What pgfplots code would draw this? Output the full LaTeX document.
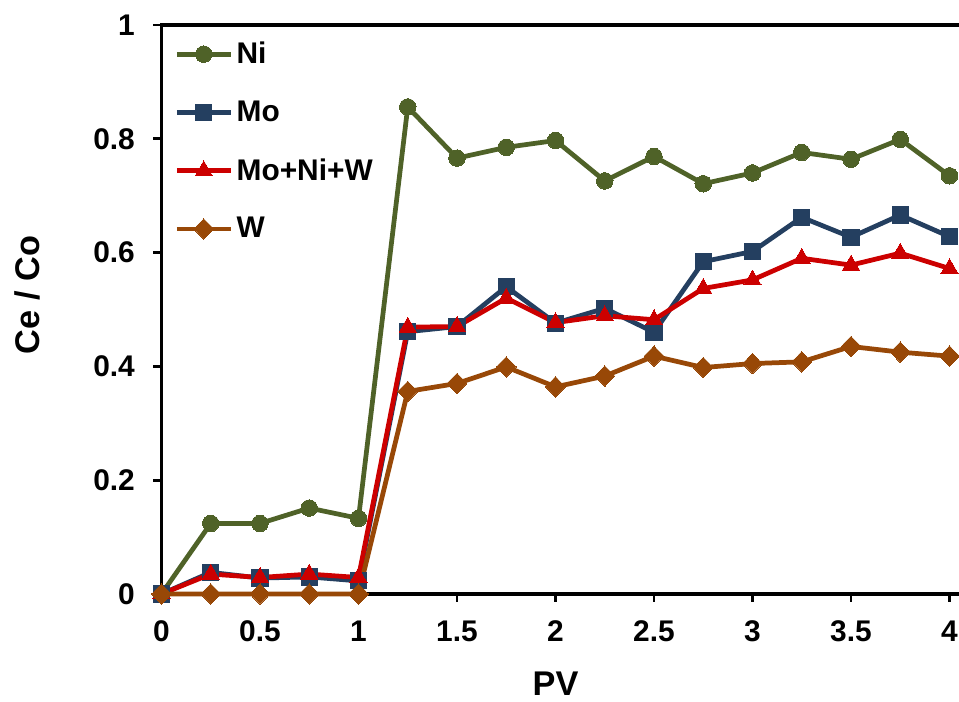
\documentclass[border=0pt]{standalone}
\usepackage{pgfplots}
\pgfplotsset{compat=1.18}
\usepackage{fontspec}
\setmainfont{Liberation Sans}
\definecolor{niC}{HTML}{4F6228}
\definecolor{moC}{HTML}{243F60}
\definecolor{mixC}{HTML}{CC0000}
\definecolor{wC}{HTML}{984807}

\pgfplotstableread{
pv   ni     mo     mix    w
0    0      0      0      0
0.25 0.124  0.038  0.035  0
0.5  0.124  0.028  0.029  0
0.75 0.151  0.030  0.035  0
1    0.133  0.023  0.029  0
1.25 0.856  0.461  0.469  0.356
1.5  0.766  0.470  0.470  0.370
1.75 0.785  0.540  0.520  0.399
2    0.797  0.476  0.477  0.364
2.25 0.726  0.502  0.489  0.383
2.5  0.769  0.460  0.482  0.418
2.75 0.721  0.584  0.537  0.398
3    0.740  0.602  0.552  0.405
3.25 0.776  0.662  0.590  0.408
3.5  0.764  0.627  0.578  0.435
3.75 0.799  0.666  0.599  0.425
4    0.735  0.628  0.572  0.418
}\breakthrough

\begin{document}
\begin{tikzpicture}
\begin{axis}[
  scale only axis, at={(0,0)}, anchor=south west,
  width=16.154cm, height=11.38cm,
  xmin=0, xmax=4.1, ymin=0, ymax=1,
  xtick={0,0.5,...,4}, ytick={0,0.2,...,1},
  xtick pos=bottom, ytick pos=left,
  tick align=outside, major tick length=0.16cm,
  tick style={line width=1.6pt, black},
  axis line style={line width=2pt, black},
  font=\fontsize{17}{20}\selectfont\bfseries,
  /pgf/number format/assume math mode=true,
  yticklabel style={xshift=-0.25cm},
  xticklabel style={yshift=-0.25cm},
  legend style={draw=none, fill=none, at={(0.009,0.983)}, anchor=north west,
    row sep=0.55cm, font=\fontsize{17}{20}\selectfont\bfseries},
  legend cell align=left,
  legend image code/.code={\draw[mark repeat=2, mark phase=2] plot coordinates {(0cm,0cm) (0.54cm,0cm) (1.08cm,0cm)};},
  every axis plot/.append style={line width=2.7pt},
  clip=false,
]
\addplot[color=niC, mark=*, mark size=4.7pt, mark options={solid, line width=0pt}] table[x=pv, y=ni] {\breakthrough};
\addlegendentry{Ni}
\addplot[color=moC, mark=square*, mark size=4.6pt, mark options={solid, line width=0pt}] table[x=pv, y=mo] {\breakthrough};
\addlegendentry{Mo}
\addplot[color=mixC, mark=triangle*, mark size=5.6pt, mark options={solid, line width=0pt}] table[x=pv, y=mix] {\breakthrough};
\addlegendentry{Mo+Ni+W}
\addplot[color=wC, mark=diamond*, mark size=5.8pt, mark options={solid, line width=0pt, xscale=1.3}] table[x=pv, y=w] {\breakthrough};
\addlegendentry{W}
\end{axis}
\node[rotate=90, font=\fontsize{19.5}{22}\selectfont\bfseries] at (-2.68,5.98) {Ce / Co};
\node[font=\fontsize{19.5}{22}\selectfont\bfseries] at (7.88,-1.79) {PV};
\pgfresetboundingbox
\path[use as bounding box] (-3.23,-2.16) rectangle (15.95,11.88);
\end{tikzpicture}
\end{document}
